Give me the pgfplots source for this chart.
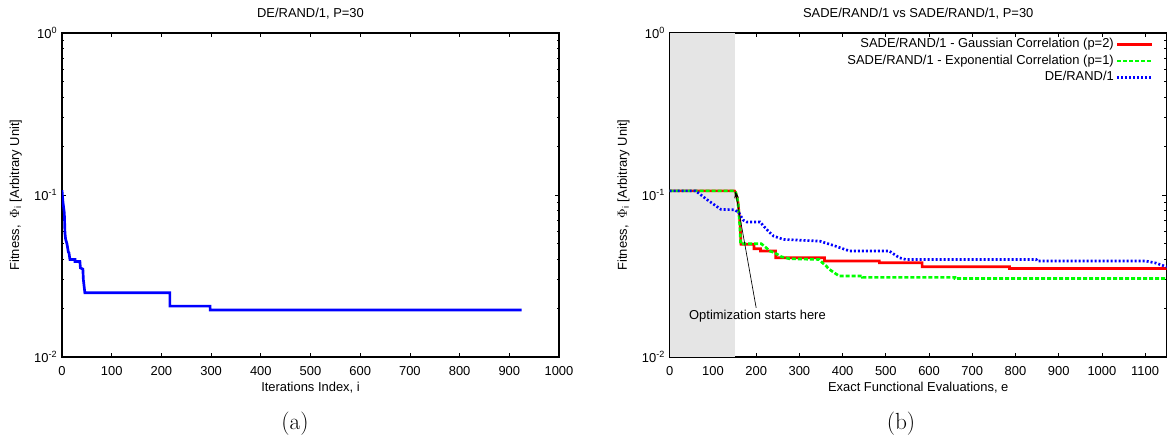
\documentclass[border=0pt]{standalone}
\usepackage{fontspec}
\newfontfamily\helv{Liberation Sans}
\usepackage{pgfplots}
\pgfplotsset{compat=1.18}
\usetikzlibrary{arrows.meta}
\newcommand{\gpfont}{\helv\fontsize{9.7}{11}\selectfont}
\pgfplotsset{myaxstyle/.style={
  scale only axis, width=372.75pt, height=243pt,
  ymin=0.01, ymax=1,
  ytick={0.01,0.1,1},
  yticklabels={10\textsuperscript{-2},10\textsuperscript{-1},10\textsuperscript{0}},
  tick label style={font=\gpfont},
  label style={font=\gpfont},
  title style={font=\gpfont, at={(axis description cs:0.5,1)}, anchor=center, yshift=8.25pt},
  xlabel style={at={(axis description cs:0.5,0)}, anchor=center, yshift=-23.25pt},
  ylabel style={at={(axis description cs:-0.093,0.5)}, anchor=center},
  xticklabel style={anchor=center, yshift=-10.25pt},
  axis line style={line width=0.9pt},
  every tick/.style={black, line width=0.6pt},
  major tick length=3.2pt, minor tick length=1.8pt,
  ylabel={Fitness,~ $\Phi$\textsubscript{i} [Arbitrary Unit]},
  /pgf/number format/assume math mode=true,
  /pgf/number format/set thousands separator={},
}}
\begin{document}
\begin{tikzpicture}
\useasboundingbox (0,0) rectangle (876pt,330.75pt);
% ---------- (a) ----------
\begin{axis}[ymode=log, myaxstyle, at={(46.5pt,63pt)}, anchor=south west,
  xmin=0, xmax=1000, xtick={0,100,...,1000},
  title={DE/RAND/1, P=30},
  xlabel={Iterations Index, i}]
\addplot[blue, line width=2pt] coordinates {
(0,0.107) (2,0.090) (4.7,0.0774) (6,0.058) (7.3,0.0533) (10,0.050) (12.7,0.0445)
(14,0.044) (16,0.040) (26,0.040) (26,0.0389) (36,0.0389) (37,0.0355) (42,0.0349)
(43,0.030) (46,0.0249) (217,0.0249) (217,0.0206) (298,0.0206) (298,0.0195) (925,0.0195)};
\end{axis}
% ---------- (b) ----------
\begin{axis}[ymode=log, myaxstyle, at={(502.3pt,63pt)}, anchor=south west,
  xmin=0, xmax=1150, xtick={0,100,...,1100},
  title={SADE/RAND/1 vs SADE/RAND/1, P=30},
  xlabel={Exact Functional Evaluations, e},
  legend cell align=right, legend plot pos=right,
  legend image code/.code={\draw[#1] (0pt,0pt) -- (26pt,0pt);},
  legend style={draw=none, fill=none, font=\gpfont,
    at={(axis description cs:1,1)}, anchor=north east, xshift=-10pt, yshift=-2pt,
    inner sep=0pt, row sep=0pt,
    nodes={inner sep=1.5pt, text height=7.3pt, text depth=2.2pt}}]
\addplot[fill=gray!20, draw=none, forget plot] coordinates {(0,0.01) (150,0.01) (150,1) (0,1)} -- cycle;
\addplot[red, line width=2pt] coordinates {
(0,0.106) (150,0.106) (153,0.103) (158,0.090) (163,0.065) (165,0.0496)
(195,0.0496) (195,0.0466) (210,0.0466) (210,0.0451) (245,0.0451) (245,0.0410)
(358,0.0410) (358,0.0391) (485,0.0391) (485,0.0382) (584,0.0382) (584,0.0361)
(786,0.0361) (786,0.0352) (1150,0.0352)};
\addlegendentry{SADE/RAND/1 - Gaussian Correlation (p=2)}
\addplot[color={rgb,1:red,0;green,1;blue,0}, line width=2pt, dash pattern=on 3pt off 1.5pt] coordinates {
(0,0.106) (150,0.106) (153,0.103) (158,0.090) (162,0.065) (164,0.050)
(212,0.050) (223,0.0473) (231,0.0451) (243,0.0440) (258,0.0416) (277,0.0404)
(346,0.0400) (353,0.0382) (361,0.0367) (369,0.0348) (381,0.0331) (392,0.0316)
(446,0.0316) (446,0.0310) (660,0.0310) (660,0.0305) (1150,0.0305)};
\addlegendentry{SADE/RAND/1 - Exponential Correlation (p=1)}
\addplot[blue, line width=2pt, dash pattern=on 1.5pt off 1.5pt] coordinates {
(0,0.106) (60,0.106) (87,0.0933) (118,0.0816) (150,0.0810) (160,0.0777)
(170,0.0700) (178,0.0682) (209,0.0682) (224,0.0614) (240,0.0558) (263,0.0532)
(347,0.0519) (378,0.0489) (416,0.0451) (508,0.0451) (531,0.0410) (546,0.0400)
(848,0.0400) (850,0.0391) (1102,0.0391) (1125,0.0380) (1145,0.0364) (1150,0.0360)};
\addlegendentry{DE/RAND/1}
\draw[black, line width=0.5pt, -{Stealth[length=5pt,width=3.5pt]}] (axis cs:200,0.0201) -- (axis cs:152,0.105);
\node[font=\gpfont, inner sep=1pt] at (axis cs:203,0.0179) {Optimization starts here};
\end{axis}
\node[font=\fontsize{17.5}{20}\selectfont] at (221.25pt,12.75pt) {(a)};
\node[font=\fontsize{17.5}{20}\selectfont] at (675.75pt,12.75pt) {(b)};
\end{tikzpicture}
\end{document}
